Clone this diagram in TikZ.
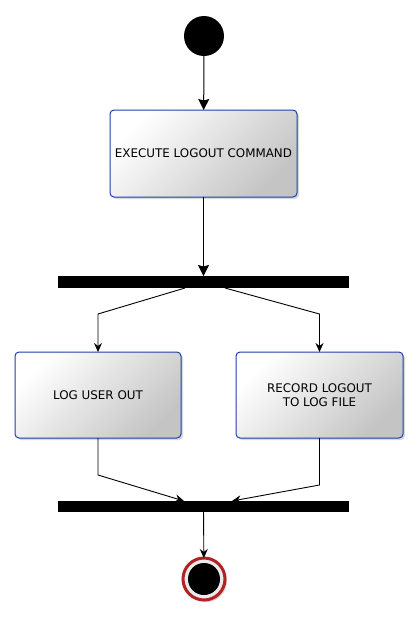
\documentclass[tikz,border=0pt]{standalone}
\usepackage{fontspec}
\setmainfont{DejaVu Sans}
\usetikzlibrary{arrows.meta,shadows}
\definecolor{bord}{RGB}{30,62,172}
\definecolor{endred}{RGB}{178,34,34}
\definecolor{gtop}{RGB}{255,255,255}
\definecolor{gbot}{RGB}{196,196,196}
\begin{document}
\begin{tikzpicture}[x=1pt,y=-1pt,
  act/.style={rectangle, rounded corners=4pt, draw=bord, line width=1pt,
    top color=gtop, bottom color=gbot, shading angle=45,
    inner sep=0pt, outer sep=0pt, align=center,
    font=\fontsize{11.9}{14.5}\selectfont,
    drop shadow={shadow xshift=2pt, shadow yshift=-2pt, fill=black, opacity=0.15}},
  bar/.style={rectangle, fill=black, inner sep=0pt, outer sep=0pt},
  bigarr/.style={line width=1pt, -{Stealth[length=11pt,width=11pt,inset=1.5pt]}},
  arr/.style={line width=0.9pt, -{Stealth[length=9pt,width=8pt,inset=3pt]}},
  ln/.style={line width=0.9pt}]
\useasboundingbox (0,0) rectangle (419,625);
% start
\node[circle, fill=black, minimum size=40pt, inner sep=0pt, outer sep=0pt] (start) at (204,36) {};
% actions
\node[act, minimum width=187pt, minimum height=87pt] (exec) at (203.5,153.5) {EXECUTE LOGOUT COMMAND};
\node[bar, minimum width=291pt, minimum height=12pt] (fork) at (203.5,282) {};
\node[act, minimum width=166pt, minimum height=86pt] (log) at (98,395) {LOG USER OUT};
\node[act, minimum width=167pt, minimum height=86pt] (rec) at (319.5,395) {RECORD LOGOUT\\TO LOG FILE};
\node[bar, minimum width=291pt, minimum height=11pt] (join) at (203.5,506.5) {};
% end
\node[circle, draw=endred, line width=3pt, fill=white!92!black, minimum size=42pt, inner sep=0pt, outer sep=0pt,
  drop shadow={shadow xshift=2pt, shadow yshift=-2pt, fill=black, opacity=0.18}] (end) at (204,579) {};
\node[circle, fill=black, minimum size=32pt, inner sep=0pt] (endin) at (end.center) {};
% coordinates
\coordinate (fl0) at (185,288);
\coordinate (fl1) at (98,314);
\coordinate (fr0) at (225,288);
\coordinate (fr1) at (319.5,314);
\coordinate (jl1) at (98,475);
\coordinate (jl0) at (184,501);
\coordinate (jr1) at (319.5,485);
\coordinate (jr0) at (232,501);
% connectors
\draw[bigarr] (start) -- (exec);
\draw[bigarr] (exec) -- (fork);
\draw[arr] (fl0) -- (fl1) -- (log);
\draw[arr] (fr0) -- (fr1) -- (rec);
\draw[arr] (log) -- (jl1) -- (jl0);
\draw[arr] (rec) -- (jr1) -- (jr0);
\draw[arr] (join) -- (end);
\end{tikzpicture}
\end{document}
